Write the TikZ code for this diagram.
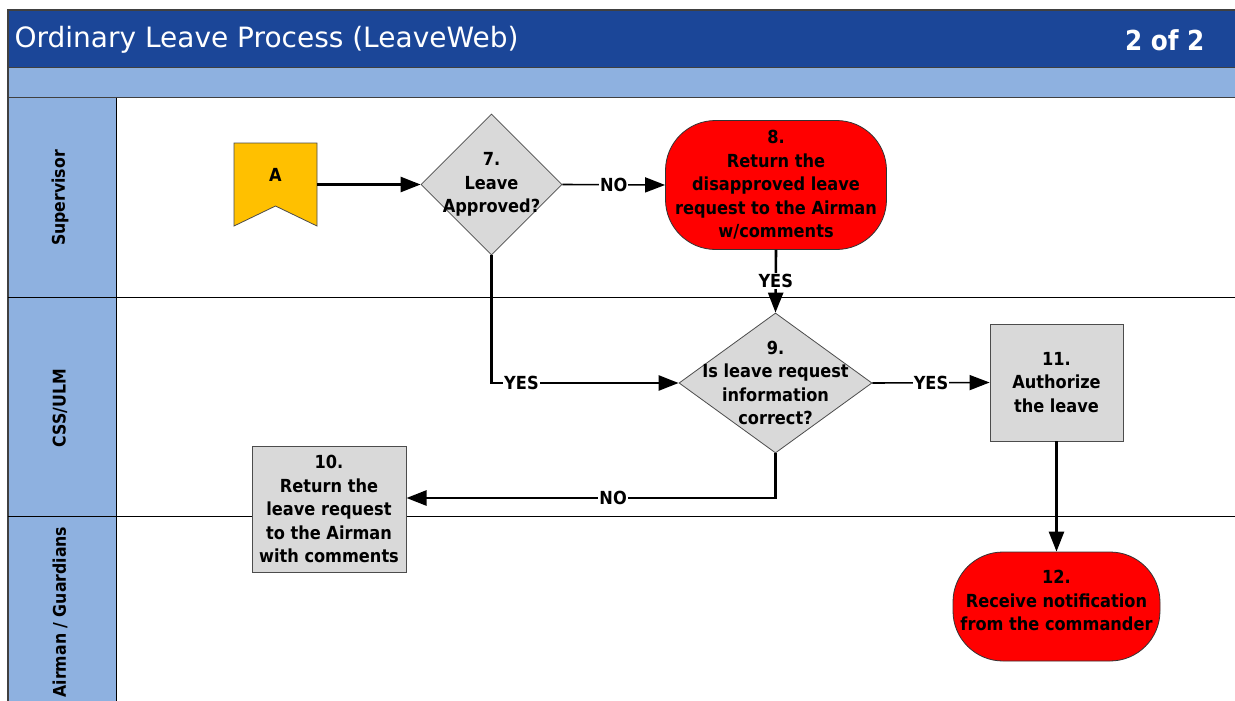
\documentclass[tikz,border=0pt]{standalone}
\usepackage{fontspec}
\setmainfont{DejaVu Sans Condensed}
\newfontfamily\titlefont{DejaVu Sans}
\usepackage{xcolor}
\usetikzlibrary{arrows.meta,shapes.geometric,positioning}
\definecolor{titleblue}{HTML}{1B4698}
\definecolor{laneblue}{HTML}{8EB1E0}
\definecolor{boxgray}{HTML}{D9D9D9}
\definecolor{flagyellow}{HTML}{FFC000}
\definecolor{endred}{HTML}{FF0000}

\begin{document}
\begin{tikzpicture}[x=1pt,y=-1pt,>={Triangle[length=20pt,width=15pt]},font=\bfseries\fontsize{18}{23.5}\selectfont]
\tikzstyle{process}=[draw=black!70,line width=0.8pt,fill=boxgray,align=center,inner sep=0pt]
\tikzstyle{decision}=[diamond,draw=black!70,line width=0.8pt,fill=boxgray,inner sep=0pt]
\tikzstyle{terminal}=[draw=black!80,line width=0.8pt,fill=endred,rounded corners=50pt,align=center,inner sep=0pt]
\tikzstyle{flow}=[->,line width=2.6pt]
\tikzstyle{thinflow}=[->,line width=1.6pt]
\tikzstyle{answer}=[fill=white,inner sep=1pt]
\tikzstyle{lane}=[rotate=90,font=\bfseries\fontsize{17.5}{20}\selectfont]

\useasboundingbox (0,0) rectangle (1235,701);
\fill[white] (0,0) rectangle (1235,701);

% title and lanes
\fill[titleblue] (8,10) rectangle (1235,68);
\fill[laneblue] (8,68) rectangle (1235,98);
\fill[laneblue] (8,98) rectangle (116,701);
\draw[black!75,line width=1.2pt] (8,701) -- (8,10) -- (1235,10);
\draw[black!75,line width=1pt] (8,68) -- (1235,68) (8,98) -- (1235,98);
\draw[line width=1pt] (116,98) -- (116,701);
\draw[line width=1pt] (8,297) -- (1235,297) (8,516) -- (1235,516);

\node[text=white,anchor=west,font=\titlefont\fontsize{28}{32}\selectfont] (title) at (11,40) {Ordinary Leave Process (LeaveWeb)};
\node[text=white,anchor=east,font=\bfseries\fontsize{27.5}{32}\selectfont] (page) at (1208,40) {2 of 2};

\node[lane] (supervisor) at (60,198) {Supervisor};
\node[lane] (cssulm) at (60,408) {CSS/ULM};
\node[lane] (airman) at (60,612) {Airman / Guardians};

% steps
\fill[flagyellow,draw=black!70,line width=0.8pt] (234,143) -- (317,143) -- (317,226) -- (275.5,206) -- (234,226) -- cycle;
\node[minimum width=83pt,minimum height=83pt,inner sep=0pt] (A) at (275.5,184.5) {};
\node (Atext) at (275.5,175) {A};

\node[decision,minimum width=141pt,minimum height=141pt,label={[align=center]center:7.\\Leave\\Approved?}] (d7) at (491.5,184.5) {};
\node[terminal,minimum width=221pt,minimum height=129pt] (eight) at (776,185) {8.\\Return the\\disapproved leave\\request to the Airman\\w/comments};
\node[decision,minimum width=193pt,minimum height=140pt,label={[align=center]center:9.\\Is leave request\\information\\correct?}] (d9) at (775.5,383) {};
\node[process,minimum width=154pt,minimum height=126pt] (ten) at (329,509) {10.\\Return the\\leave request\\to the Airman\\with comments};
\node[process,minimum width=133pt,minimum height=117pt] (eleven) at (1056.5,382.5) {11.\\Authorize\\the leave};
\node[terminal,minimum width=207pt,minimum height=109pt] (twelve) at (1056.5,606.5) {};
\node[align=center] (twelvetext) at (1056.5,600.5) {12.\\Receive notification\\from the commander};
\coordinate (tenin) at (406.5,498);

% connectors
\draw[flow] (A.east) -- (d7.west);
\draw[thinflow] (d7.east) -- node[answer] {NO} (eight.west);
\draw[flow] (eight.south) -- node[answer] {YES} (d9.north);
\draw[flow] (d7.south) |- node[answer,pos=0.58] {YES} (d9.west);
\draw[thinflow] (d9.east) -- node[answer] {YES} (eleven.west);
\draw[flow] (d9.south) |- node[answer,pos=0.72] {NO} (tenin);
\draw[flow] (eleven.south) -- (twelve.north);
\end{tikzpicture}
\end{document}
